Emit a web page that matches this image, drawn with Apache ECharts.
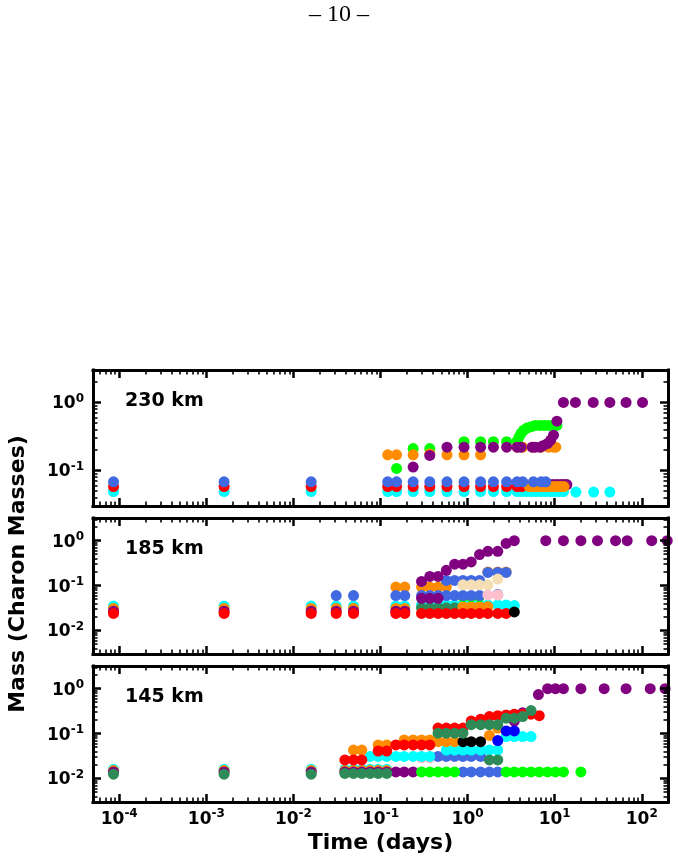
<!DOCTYPE html>
<html>
<head>
<meta charset="utf-8">
<script src="https://cdn.jsdelivr.net/npm/echarts@6/dist/echarts.min.js"></script>
<style>
  html, body { margin: 0; padding: 0; background: #fff; }
  #chart { width: 678px; height: 864px; }
</style>
</head>
<body>
<div id="chart"></div>
<script>
// axis ranges (days / Charon masses)
var timeRange = [5e-5, 200];
var massRanges = [[0.03, 3], [0.003, 3.2], [0.003, 3.2]];
var panelNames = ['230 km', '185 km', '145 km'];

// ---- 230 km : [time (days), mass] ----
var p230Cyan = [[8.6e-5,0.049],[1.6e-3,0.049],[0.016,0.049],[0.121,0.049],[0.153,0.049],[0.237,0.049],[0.368,0.049],[0.58,0.049],[0.91,0.049],[1.41,0.049],[1.98,0.049],[2.81,0.049],[3.7,0.049],[4.2,0.049],[4.8,0.049],[5.4,0.049],[6.1,0.049],[6.9,0.049],[7.8,0.049],[8.8,0.049],[9.9,0.049],[11.2,0.049],[12.6,0.049],[17.5,0.048],[28,0.048],[43,0.048]];
var p230Green = [[0.153,0.107],[0.237,0.21],[0.368,0.21],[0.91,0.265],[1.41,0.265],[1.98,0.265],[2.81,0.265],[3.7,0.27],[3.9,0.31],[4.1,0.35],[4.4,0.39],[4.8,0.42],[5.4,0.44],[6.0,0.46],[6.8,0.46],[7.6,0.46],[8.5,0.46],[9.5,0.46],[10.6,0.46]];
var p230Red = [[8.6e-5,0.058],[1.6e-3,0.058],[0.016,0.058],[0.121,0.058],[0.153,0.058],[0.237,0.058],[0.368,0.058],[0.58,0.058],[0.91,0.058],[1.41,0.058],[1.98,0.058],[2.81,0.058],[3.7,0.058],[4.2,0.058]];
var p230PurpleLow = [[8.7,0.062],[9.6,0.062],[10.6,0.062],[11.7,0.062],[12.8,0.062],[13.8,0.062]];
var p230Orange = [[0.121,0.17],[0.153,0.17],[0.237,0.17],[0.368,0.175],[0.58,0.17],[0.91,0.17],[1.41,0.17],[3.7,0.22],[4.3,0.22],[5.7,0.22],[7.0,0.22],[8.5,0.22],[9.7,0.22],[10.3,0.22],[5.1,0.058],[5.7,0.058],[6.3,0.058],[7.0,0.058],[7.8,0.058],[8.6,0.058],[9.5,0.058],[10.5,0.058],[11.6,0.058],[12.8,0.058]];
var p230PurpleHigh = [[0.237,0.112],[0.368,0.166],[0.58,0.22],[0.91,0.22],[1.41,0.22],[1.98,0.22],[2.81,0.22],[3.7,0.22],[4.1,0.22],[5.5,0.22],[6.0,0.22],[6.8,0.22],[7.3,0.23],[8.3,0.25],[9.0,0.28],[9.7,0.33],[10.6,0.53],[12.6,1.0],[17.3,1.0],[27.7,1.0],[43,1.0],[66,1.0],[102,1.0]];
var p230Blue = [[8.6e-5,0.068],[1.6e-3,0.068],[0.016,0.068],[0.121,0.068],[0.153,0.068],[0.237,0.068],[0.368,0.068],[0.58,0.068],[0.91,0.068],[1.41,0.068],[1.98,0.068],[2.81,0.068],[3.7,0.068],[4.3,0.068],[5.7,0.068],[7.0,0.068],[7.9,0.068]];

// ---- 185 km ----
var p185Cyan = [[8.6e-5,0.035],[1.6e-3,0.035],[0.016,0.035],[0.031,0.035],[0.049,0.035],[0.15,0.035],[0.19,0.035],[0.296,0.037],[0.368,0.037],[0.458,0.037],[0.57,0.037],[0.71,0.037],[0.885,0.037],[1.10,0.037],[1.37,0.037],[1.71,0.037],[2.22,0.037],[2.77,0.037],[3.44,0.036]];
var p185SeaGreen = [[0.296,0.032],[0.368,0.032],[0.458,0.032],[0.57,0.032],[0.71,0.032]];
var p185Orange = [[8.6e-5,0.031],[1.6e-3,0.031],[0.016,0.031],[0.031,0.031],[0.049,0.031],[0.15,0.031],[0.19,0.031],[0.15,0.093],[0.19,0.093],[0.296,0.093],[0.368,0.093],[0.458,0.093],[0.57,0.093],[0.885,0.034],[1.10,0.034],[1.37,0.034],[1.71,0.034],[1.71,0.2],[2.22,0.2],[2.77,0.2]];
var p185Green = [[0.885,0.057],[1.10,0.057],[1.37,0.057]];
var p185Blue = [[0.031,0.06],[0.049,0.06],[0.15,0.06],[0.19,0.06],[0.296,0.06],[0.368,0.06],[0.458,0.06],[0.57,0.06],[0.71,0.06],[0.885,0.06],[1.10,0.06],[1.37,0.06],[2.22,0.063],[0.57,0.13],[0.71,0.13],[0.885,0.13],[1.10,0.13],[1.37,0.13],[1.71,0.197],[2.22,0.197],[2.77,0.197]];
var p185Wheat = [[0.885,0.104],[1.10,0.104],[1.37,0.104],[1.71,0.104],[2.22,0.14]];
var p185Pink = [[1.71,0.062],[2.22,0.062]];
var p185Purple = [[8.6e-5,0.027],[1.6e-3,0.027],[0.016,0.027],[0.031,0.027],[0.049,0.027],[0.15,0.027],[0.19,0.027],[0.296,0.052],[0.368,0.052],[0.458,0.052],[0.296,0.124],[0.368,0.16],[0.458,0.16],[0.57,0.219],[0.71,0.30],[0.885,0.30],[1.10,0.337],[1.37,0.49],[1.71,0.58],[2.22,0.58],[2.77,0.87],[3.44,1.0],[7.9,1.0],[12.6,1.0],[20,1.0],[31,1.0],[50,1.0],[68,1.0],[130,1.0],[196,1.0]];
var p185Red = [[8.6e-5,0.024],[1.6e-3,0.024],[0.016,0.024],[0.031,0.024],[0.049,0.024],[0.15,0.024],[0.19,0.024],[0.296,0.024],[0.368,0.024],[0.458,0.024],[0.57,0.024],[0.71,0.024],[0.885,0.024],[1.10,0.024],[1.37,0.024],[1.71,0.024],[2.22,0.024],[2.77,0.024]];
var p185Black = [[3.44,0.026]];

// ---- 145 km ----
var p145Pink = [[0.296,0.029],[0.368,0.029]];
var p145Blue = [[0.458,0.031],[0.57,0.031],[0.71,0.031],[0.885,0.031],[1.10,0.031],[1.41,0.031],[0.885,0.014],[1.10,0.014],[1.41,0.014],[1.78,0.014],[2.22,0.014]];
var p145Cyan = [[8.6e-5,0.016],[1.6e-3,0.016],[0.016,0.016],[0.039,0.016],[0.049,0.016],[0.061,0.016],[0.076,0.016],[0.094,0.016],[0.118,0.016],[0.076,0.031],[0.094,0.031],[0.118,0.031],[0.15,0.031],[0.187,0.031],[0.237,0.031],[0.296,0.031],[0.368,0.031],[0.57,0.043],[0.71,0.043],[0.885,0.043],[1.10,0.043],[1.41,0.043],[1.78,0.043],[2.22,0.043],[2.77,0.086],[3.44,0.086],[4.29,0.086],[5.35,0.086]];
var p145Orange = [[8.6e-5,0.015],[1.6e-3,0.015],[0.016,0.015],[0.039,0.015],[0.049,0.015],[0.061,0.015],[0.076,0.015],[0.094,0.015],[0.118,0.015],[0.049,0.043],[0.061,0.043],[0.094,0.056],[0.118,0.056],[0.187,0.072],[0.237,0.072],[0.296,0.072],[0.368,0.072],[0.458,0.066],[0.57,0.066],[0.71,0.066],[1.78,0.091],[2.22,0.133]];
var p145Purple = [[8.6e-5,0.014],[1.6e-3,0.014],[0.016,0.014],[0.039,0.014],[0.049,0.014],[0.061,0.014],[0.076,0.014],[0.094,0.014],[0.118,0.014],[0.15,0.014],[0.187,0.014],[0.237,0.014],[3.44,0.19],[4.29,0.29],[6.5,0.74],[8.3,1.0],[10.2,1.0],[12.6,1.0],[20,1.0],[37,1.0],[66,1.0],[125,1.0],[185,1.0]];
var p145Red = [[0.039,0.026],[0.049,0.026],[0.061,0.026],[0.094,0.041],[0.118,0.041],[0.15,0.056],[0.187,0.056],[0.237,0.056],[0.296,0.056],[0.368,0.056],[0.458,0.133],[0.57,0.133],[0.71,0.133],[0.885,0.133],[1.10,0.19],[1.41,0.21],[1.78,0.24],[2.22,0.25],[2.77,0.26],[3.44,0.27],[4.29,0.27],[5.35,0.27],[6.65,0.25]];
var p145Black = [[0.885,0.066],[1.10,0.066],[1.41,0.066]];
var p145DeepBlue = [[2.22,0.07],[2.77,0.115],[3.44,0.115]];
var p145Green = [[0.296,0.014],[0.368,0.014],[0.458,0.014],[0.57,0.014],[0.71,0.014],[2.77,0.014],[3.44,0.014],[4.29,0.014],[5.35,0.014],[6.65,0.014],[8.28,0.014],[10.2,0.014],[12.6,0.014],[20,0.014]];
var p145SeaGreen = [[8.6e-5,0.0125],[1.6e-3,0.0125],[0.016,0.0125],[0.039,0.013],[0.049,0.013],[0.061,0.013],[0.076,0.013],[0.094,0.013],[0.118,0.013],[0.458,0.102],[0.57,0.102],[0.71,0.102],[0.885,0.102],[1.10,0.158],[1.41,0.158],[1.78,0.158],[2.22,0.158],[2.77,0.22],[3.44,0.22],[4.29,0.24],[5.35,0.325],[1.78,0.026],[2.22,0.026]];

var FONT = 'DejaVu Sans';
var chart = echarts.init(document.getElementById('chart'));

function pow10Label(v) {
  var l = Math.log(v) / Math.LN10;
  var e = Math.round(l);
  if (Math.abs(l - e) > 1e-6) return '';
  return '{b|10}{s|' + (e < 0 ? '-' + (-e) : e) + '}';
}
var labelRich = {
  b: { fontSize: 17, fontWeight: 'bold', fontFamily: FONT, color: '#000', verticalAlign: 'bottom' },
  s: { fontSize: 12, fontWeight: 'bold', fontFamily: FONT, color: '#000', verticalAlign: 'top', padding: [0, 0, 8, 0] }
};

// 2..9 x 10^k inside a range, for the minor ticks
function minorValues(r) {
  var out = [];
  for (var k = -6; k <= 3; k++) {
    for (var m = 2; m <= 9; m++) {
      var v = m * Math.pow(10, k);
      if (v > r[0] && v < r[1]) out.push(v);
    }
  }
  return out;
}

var gridTops = [370, 518, 666];
var grids = [], xAxes = [], yAxes = [], series = [];

function tickStyle(minor, values) {
  var t = { show: true, inside: true, length: minor ? 4.5 : 8,
    lineStyle: { color: '#000', width: minor ? 1.6 : 2.5 } };
  if (minor) t.customValues = values;
  return t;
}
function lineStyle(minor) {
  return { show: !minor, onZero: false, lineStyle: { color: '#000', width: 3, cap: 'square' } };
}

gridTops.forEach(function (top, g) {
  grids.push({ left: 93, width: 575, top: top, height: 136, show: false });
  var xMinor = minorValues(timeRange), yMinor = minorValues(massRanges[g]);
  // 0: bottom, 1: top, 2: bottom minor, 3: top minor
  [0, 1, 2, 3].forEach(function (i) {
    var minor = i >= 2;
    var showLabel = i === 0 && g === 2;
    xAxes.push({
      type: 'log', gridIndex: g, min: timeRange[0], max: timeRange[1], z: 5,
      position: i % 2 === 0 ? 'bottom' : 'top',
      axisLine: lineStyle(minor),
      axisTick: tickStyle(minor, xMinor),
      splitLine: { show: false },
      axisLabel: { show: showLabel, margin: 6, formatter: pow10Label, rich: labelRich },
      name: showLabel ? 'Time (days)' : '',
      nameLocation: 'middle', nameGap: 30,
      nameTextStyle: { fontSize: 22, fontWeight: 'bold', fontFamily: FONT, color: '#000' }
    });
    yAxes.push({
      type: 'log', gridIndex: g, min: massRanges[g][0], max: massRanges[g][1], z: 5,
      position: i % 2 === 0 ? 'left' : 'right',
      axisLine: lineStyle(minor),
      axisTick: tickStyle(minor, yMinor),
      splitLine: { show: false },
      axisLabel: { show: i === 0, margin: 9, formatter: pow10Label, rich: labelRich }
    });
  });
});

function dots(data, color, g) {
  return {
    type: 'scatter', xAxisIndex: 4 * g, yAxisIndex: 4 * g, data: data,
    symbol: 'circle', symbolSize: 11, silent: true,
    itemStyle: { color: color, opacity: 1 }
  };
}

series.push(
  dots(p230Cyan, '#00FFFF', 0), dots(p230Green, '#00FF00', 0), dots(p230Red, '#FF0000', 0),
  dots(p230PurpleLow, '#800080', 0), dots(p230Orange, '#FF8C00', 0),
  dots(p230PurpleHigh, '#800080', 0), dots(p230Blue, '#4169E1', 0),

  dots(p185Cyan, '#00FFFF', 1), dots(p185SeaGreen, '#2E8B57', 1), dots(p185Orange, '#FF8C00', 1),
  dots(p185Green, '#00FF00', 1), dots(p185Blue, '#4169E1', 1), dots(p185Wheat, '#F5DEB3', 1),
  dots(p185Pink, '#FFC0CB', 1), dots(p185Purple, '#800080', 1), dots(p185Red, '#FF0000', 1),
  dots(p185Black, '#000000', 1),

  dots(p145Pink, '#FFC0CB', 2), dots(p145Blue, '#4169E1', 2), dots(p145Cyan, '#00FFFF', 2),
  dots(p145Orange, '#FF8C00', 2), dots(p145Purple, '#800080', 2), dots(p145Red, '#FF0000', 2),
  dots(p145Black, '#000000', 2), dots(p145DeepBlue, '#0000FF', 2), dots(p145Green, '#00FF00', 2),
  dots(p145SeaGreen, '#2E8B57', 2)
);

var graphics = [
  { type: 'text', x: 339, y: 15, style: { text: '\u2013 10 \u2013', font: '24px "Liberation Serif"', fill: '#000', align: 'center', verticalAlign: 'middle' } },
  { type: 'text', x: 18, y: 574, rotation: Math.PI / 2, style: { text: 'Mass (Charon Masses)', font: 'bold 22px "DejaVu Sans"', fill: '#000', align: 'center', verticalAlign: 'middle' } }
];
panelNames.forEach(function (name, g) {
  graphics.push({ type: 'text', x: 125, y: gridTops[g] + 31, z: 10,
    style: { text: name, font: 'bold 19px "DejaVu Sans"', fill: '#000', align: 'left', verticalAlign: 'middle' } });
});

chart.setOption({
  animation: false,
  backgroundColor: '#fff',
  grid: grids,
  xAxis: xAxes,
  yAxis: yAxes,
  graphic: graphics,
  series: series
});
</script>
</body>
</html>
